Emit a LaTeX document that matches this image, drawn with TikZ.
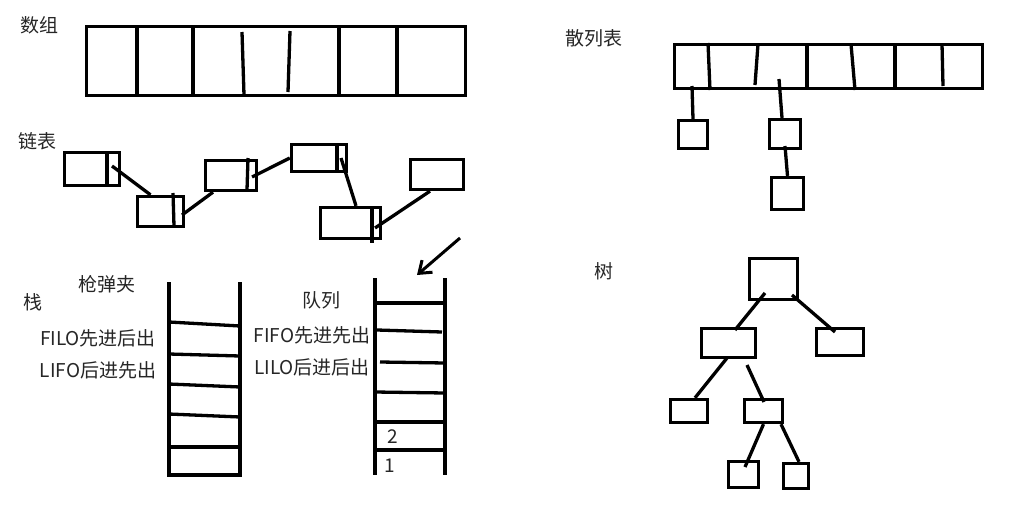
\documentclass[tikz,border=0pt]{standalone}
\usepackage{fontspec}
\setmainfont{Noto Sans CJK SC}
\usetikzlibrary{calc,arrows.meta}
\begin{document}
\begin{tikzpicture}[x=1pt,y=-1pt,
  lw/.style={line width=3.3pt},
  box/.style={draw,lw,inner sep=0pt,rectangle},
  lbl/.style={font=\fontsize{19}{22}\selectfont,text=black!85,inner sep=0pt},
  conn/.style={lw},
  rung/.style={lw}]
\useasboundingbox[fill=white] (0,0) rectangle (1025,506);

% ---------- 数组 ----------
\node[lbl] (tArr) at (39,25) {数组};
\node[box,minimum width=379,minimum height=69] (arr) at (276,61) {};
\draw[rung] (137,25) -- (137,97);
\draw[rung] (193,25) -- (193,97);
\draw[rung] (242,32) -- (244,95);
\draw[rung] (290,31) -- (288,92);
\draw[rung] (339,25) -- (339,97);
\draw[rung] (397,25) -- (397,97);

% ---------- 链表 ----------
\node[lbl] (tList) at (37,141) {链表};
\node[box,minimum width=55,minimum height=33] (A) at (92,169) {};
\draw[rung] (107,152) -- (107,186);
\node[box,minimum width=46,minimum height=30] (B) at (160.5,211.5) {};
\draw[rung] (173,193) -- (174,226);
\node[box,minimum width=51,minimum height=30] (C) at (231,175.5) {};
\draw[rung] (248,158) -- (247,190);
\node[box,minimum width=55,minimum height=27] (D) at (319,158) {};
\draw[rung] (337,144) -- (337,172);
\node[box,minimum width=53,minimum height=30] (E) at (437,174.5) {};
\node[box,minimum width=60,minimum height=31] (F) at (350.5,223) {};
\draw[rung] (372,207) -- (372,243);

\draw[conn] ($(A.center)+(20,-3)$) -- ($(B.north)+(-10,0)$);
\draw[conn] ($(B.center)+(21.5,3.5)$) -- ($(C.south)+(-18,0)$);
\draw[conn] ($(C.center)+(21,1.5)$) -- (D.west);
\draw[conn] ($(D.center)+(22,0)$) -- ($(F.north)+(5.5,0)$);
\draw[conn] ($(F.center)+(24.5,5)$) -- ($(E.south)+(-7,0)$);

% ---------- 栈 ----------
\node[lbl] (tStack) at (33,302) {栈};
\node[lbl] (tMag) at (107,284) {枪弹夹};
\node[lbl] (tFILO) at (98,338) {FILO先进后出};
\node[lbl] (tLIFO) at (98,370) {LIFO后进先出};
\draw[rung] (169,282) -- (169,477);
\draw[rung] (240,282) -- (240,477);
\draw[rung] (169,322) -- (240,326);
\draw[rung] (169,354) -- (240,356);
\draw[rung] (169,384) -- (240,387);
\draw[rung] (169,414) -- (240,417);
\draw[rung] (169,447) -- (240,447);
\draw[rung] (169,475) -- (240,475);

% ---------- 队列 ----------
\node[lbl] (tQueue) at (321,300) {队列};
\node[lbl] (tFIFO) at (312,335) {FIFO先进先出};
\node[lbl] (tLILO) at (312,367) {LILO后进后出};
\draw[rung] (375,278) -- (375,475);
\draw[rung] (445,278) -- (445,475);
\draw[rung] (375,303) -- (445,303);
\draw[rung] (377,330) -- (442,332);
\draw[rung] (380,362) -- (445,363);
\draw[rung] (375,392) -- (445,393);
\draw[rung] (375,422) -- (445,422);
\draw[rung] (375,450) -- (445,450);
\node[lbl] (n2) at (393,437) {2};
\node[lbl] (n1) at (390,466) {1};
\coordinate (arS) at (460,238);
\coordinate (arE) at (417,275);
\draw[line width=3pt,-{Straight Barb[length=11pt,width=16pt]}] (arS) -- (arE);

% ---------- 散列表 ----------
\node[lbl] (tHash) at (594,38) {散列表};
\node[box,minimum width=308,minimum height=44] (ht) at (828.5,66.5) {};
\draw[rung] (708,43) -- (710,90);
\draw[rung] (758,44) -- (755,85);
\draw[rung] (807,44) -- (807,90);
\draw[rung] (851,44) -- (855,90);
\draw[rung] (895,44) -- (895,90);
\draw[rung] (942,44) -- (943,86);
\node[box,minimum width=29,minimum height=28] (h1) at (693,134.5) {};
\node[box,minimum width=31,minimum height=29] (h2) at (785,134) {};
\node[box,minimum width=32,minimum height=32] (h3) at (787.5,193.5) {};
\draw[conn] ($(ht.center)+(-136.5,19.5)$) -- (h1.north);
\draw[conn] ($(ht.center)+(-49.5,12.5)$) -- ($(h2.north)+(-3,0)$);
\draw[conn] ($(h2.center)+(0,12)$) -- (h3.north);

% ---------- 树 ----------
\node[lbl] (tTree) at (604,271) {树};
\node[box,minimum width=48,minimum height=41] (r) at (773.5,279) {};
\node[box,minimum width=54,minimum height=29] (t1) at (728.5,343) {};
\node[box,minimum width=47,minimum height=27] (t2) at (840,342) {};
\node[box,minimum width=37,minimum height=23] (t3) at (689,411) {};
\node[box,minimum width=38,minimum height=23] (t4) at (763.5,411) {};
\node[box,minimum width=30,minimum height=26] (t5) at (743.5,474.5) {};
\node[box,minimum width=25,minimum height=25] (t6) at (796,476) {};
\draw[conn] ($(r.center)+(-8.5,14)$) -- ($(t1.center)+(6.5,-13)$);
\draw[conn] ($(r.center)+(18.5,16)$) -- ($(t2.center)+(-5,-10)$);
\draw[conn] ($(t1.center)+(-1.5,15)$) -- ($(t3.north)+(6,0)$);
\draw[conn] ($(t1.center)+(18.5,22)$) -- ($(t4.center)+(0.5,-9)$);
\draw[conn] (t4.south) -- ($(t5.center)+(1.5,-7.5)$);
\draw[conn] ($(t4.south)+(17.5,0)$) -- ($(t6.north)+(3,0)$);
\end{tikzpicture}
\end{document}
